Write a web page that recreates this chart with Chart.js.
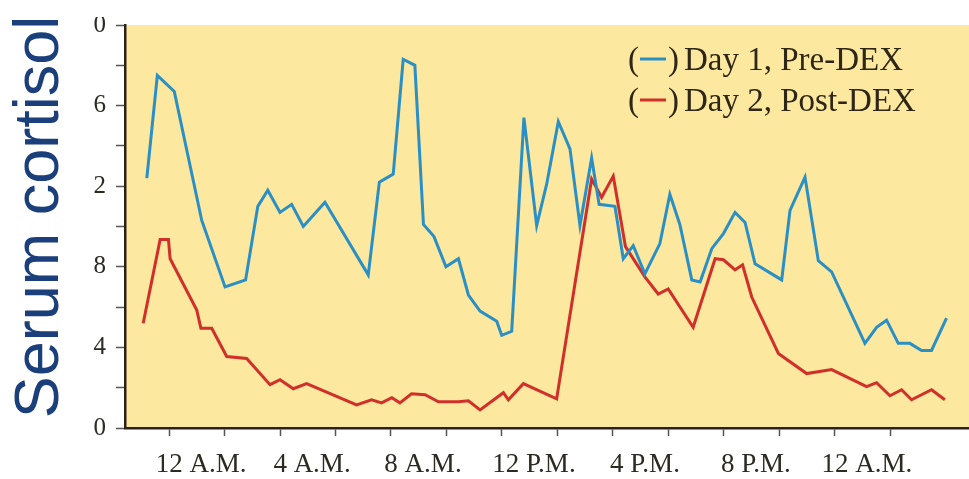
<!DOCTYPE html>
<html>
<head>
<meta charset="utf-8">
<title>Serum cortisol</title>
<script src="https://cdn.jsdelivr.net/npm/chart.js@4.4.1/dist/chart.umd.min.js"></script>
<style>
  html, body { margin: 0; padding: 0; background: #ffffff; }
  #wrap { width: 969px; height: 479px; position: relative; }
</style>
</head>
<body>
<div id="wrap"><canvas id="cortisolChart"></canvas></div>
<script>
// time in hours from midnight (12 A.M. = 0)
const day1Hours = [-0.80, -0.42, 0.19, 1.18, 2.02, 2.76, 3.20, 3.56, 4.00, 4.42,
  4.84, 5.62, 7.18, 7.58, 8.08, 8.44, 8.86, 9.17, 9.55, 9.98,
  10.43, 10.79, 11.21, 11.81, 11.99, 12.35, 12.79, 13.25, 13.61, 14.03,
  14.45, 14.81, 15.23, 15.50, 16.07, 16.37, 16.73, 17.15, 17.69, 18.05,
  18.41, 18.84, 19.14, 19.56, 19.98, 20.40, 20.76, 21.12, 22.08, 22.38,
  22.92, 23.40, 23.88, 25.08, 25.50, 25.86, 26.28, 26.70, 27.12, 27.48, 28.02];
const day1Values = [12.4, 17.5, 16.7, 10.3, 7.0, 7.35, 11.0, 11.8, 10.7, 11.1,
  10.0, 11.2, 7.6, 12.2, 12.6, 18.3, 18.0, 10.1, 9.5, 8.0,
  8.4, 6.6, 5.8, 5.3, 4.6, 4.8, 15.4, 10.05, 12.1, 15.2,
  13.85, 10.05, 13.4, 11.1, 11.0, 8.4, 9.05, 7.65, 9.15, 11.6,
  10.1, 7.35, 7.25, 8.9, 9.65, 10.7, 10.2, 8.15, 7.35, 10.8,
  12.45, 8.3, 7.75, 4.2, 5.0, 5.35, 4.2, 4.2, 3.85, 3.85, 5.45];

const day2Hours = [-0.93, -0.32, -0.02, 0.04, 1.00, 1.15, 1.54, 2.08, 2.80, 3.64,
  4.00, 4.48, 4.96, 6.76, 7.30, 7.66, 8.03, 8.32, 8.74, 9.23,
  9.71, 10.43, 10.79, 11.21, 12.05, 12.23, 12.77, 13.97, 15.23, 15.59,
  16.01, 16.45, 17.15, 17.63, 17.99, 18.89, 19.68, 19.98, 20.40, 20.67,
  21.00, 21.96, 22.98, 23.88, 25.14, 25.50, 25.98, 26.40, 26.76, 27.48, 27.96];
const day2Values = [5.2, 9.35, 9.35, 8.4, 5.85, 4.95, 4.95, 3.55, 3.45, 2.15,
  2.4, 1.95, 2.2, 1.15, 1.4, 1.25, 1.5, 1.25, 1.7, 1.65,
  1.3, 1.3, 1.35, 0.9, 1.75, 1.4, 2.2, 1.45, 12.35, 11.45,
  12.5, 9.0, 7.5, 6.65, 6.9, 5.0, 8.4, 8.35, 7.85, 8.1,
  6.5, 3.7, 2.7, 2.9, 2.05, 2.25, 1.6, 1.9, 1.4, 1.9, 1.4];

const seriesLabels = ['Day 1, Pre-DEX', 'Day 2, Post-DEX'];

// x axis: tick marks every 2 h, labels every 4 h
const xTickHours = [0, 2, 4, 6, 8, 10, 12, 14, 16, 18, 20, 22, 24, 26];
const xLabelHours = [0, 4, 8, 12, 16, 20, 24];
const xLabels = ['12 A.M.', '4 A.M.', '8 A.M.', '12 P.M.', '4 P.M.', '8 P.M.', '12 A.M.'];

// y axis: labels as they show in the picture (leading digits are cut off there)
const yLabelValues = [0, 4, 8, 12, 16, 20];
const yLabels = ['0', '4', '8', '2', '6', '0'];

const yTitle = 'Serum cortisol';

const toPoints = (xs, ys) => xs.map((x, i) => ({ x: x, y: ys[i] }));

// yellow plot background + white band at the very top
const backdrop = {
  id: 'backdrop',
  beforeDraw(chart) {
    const { ctx, chartArea } = chart;
    ctx.save();
    ctx.fillStyle = '#fce89e';
    ctx.fillRect(chartArea.left, chartArea.top, chartArea.right - chartArea.left, chartArea.bottom - chartArea.top);
    ctx.restore();
  },
  afterDraw(chart) {
    const { ctx } = chart;
    ctx.save();
    ctx.fillStyle = '#ffffff';
    ctx.fillRect(0, 0, chart.width, 17);
    // big rotated axis title
    ctx.translate(41, 217);
    ctx.rotate(-Math.PI / 2);
    ctx.fillStyle = '#1b3f7a';
    ctx.font = '63px "Liberation Sans", Arial, sans-serif';
    ctx.textAlign = 'center';
    ctx.textBaseline = 'middle';
    ctx.fillText(yTitle, 0, 0);
    ctx.restore();
  }
};

// legend drawn as "(—) label" inside the plot
const parenLegend = {
  id: 'parenLegend',
  afterDatasetsDraw(chart) {
    const { ctx } = chart;
    const x0 = 628;
    const rows = [70, 111];
    ctx.save();
    ctx.font = '33px "Liberation Serif", "Times New Roman", serif';
    ctx.textBaseline = 'alphabetic';
    ctx.textAlign = 'left';
    chart.data.datasets.forEach((ds, i) => {
      const y = rows[i];
      ctx.fillStyle = '#2e2616';
      ctx.fillText('(', x0, y);
      const w = ctx.measureText('(').width;
      ctx.strokeStyle = ds.borderColor;
      ctx.lineWidth = 3;
      ctx.beginPath();
      ctx.moveTo(x0 + w + 1, y - 11);
      ctx.lineTo(x0 + w + 27, y - 11);
      ctx.stroke();
      ctx.fillText(')', x0 + w + 29, y);
      ctx.fillText(ds.label, x0 + w + 29 + ctx.measureText(')').width + 5, y);
    });
    ctx.restore();
  }
};

const ctx = document.getElementById('cortisolChart').getContext('2d');

const cortisolChart = new Chart(ctx, {
  type: 'line',
  data: {
    datasets: [
      {
        label: seriesLabels[0],
        data: toPoints(day1Hours, day1Values),
        borderColor: '#2a8fc4',
        borderWidth: 3,
        pointRadius: 0,
        tension: 0,
        fill: false
      },
      {
        label: seriesLabels[1],
        data: toPoints(day2Hours, day2Values),
        borderColor: '#d12f2a',
        borderWidth: 3,
        pointRadius: 0,
        tension: 0,
        fill: false
      }
    ]
  },
  options: {
    responsive: true,
    maintainAspectRatio: false,
    animation: false,
    layout: { padding: { top: 24, left: 0, right: 0, bottom: 0 } },
    plugins: {
      legend: { display: false },
      tooltip: { enabled: false }
    },
    scales: {
      x: {
        type: 'linear',
        min: -1.586,
        max: 28.83,
        afterBuildTicks(scale) {
          scale.ticks = xTickHours.map(v => ({ value: v }));
        },
        afterFit(scale) { scale.height = 51; },
        border: { display: true, color: '#2a2218', width: 2.5 },
        grid: { drawOnChartArea: false, drawTicks: true, tickLength: 8, tickColor: '#555', tickWidth: 1.5 },
        ticks: {
          autoSkip: false,
          maxRotation: 0,
          labelOffset: 32,
          padding: 13,
          color: '#2d2a22',
          font: { family: '"Liberation Serif", "Times New Roman", serif', size: 27 },
          callback(value) {
            const i = xLabelHours.indexOf(value);
            return i >= 0 ? xLabels[i] : '';
          }
        }
      },
      y: {
        min: 0,
        max: 20,
        afterFit(scale) { scale.width = 125; },
        border: { display: true, color: '#2a2218', width: 2.5 },
        grid: { drawOnChartArea: false, drawTicks: true, tickLength: 9, tickColor: '#555', tickWidth: 1.5 },
        ticks: {
          stepSize: 2,
          padding: 10,
          color: '#2d2a22',
          font: { family: '"Liberation Serif", "Times New Roman", serif', size: 25 },
          callback(value) {
            const i = yLabelValues.indexOf(value);
            return i >= 0 ? yLabels[i] : '';
          }
        }
      }
    }
  },
  plugins: [backdrop, parenLegend]
});
</script>
</body>
</html>
